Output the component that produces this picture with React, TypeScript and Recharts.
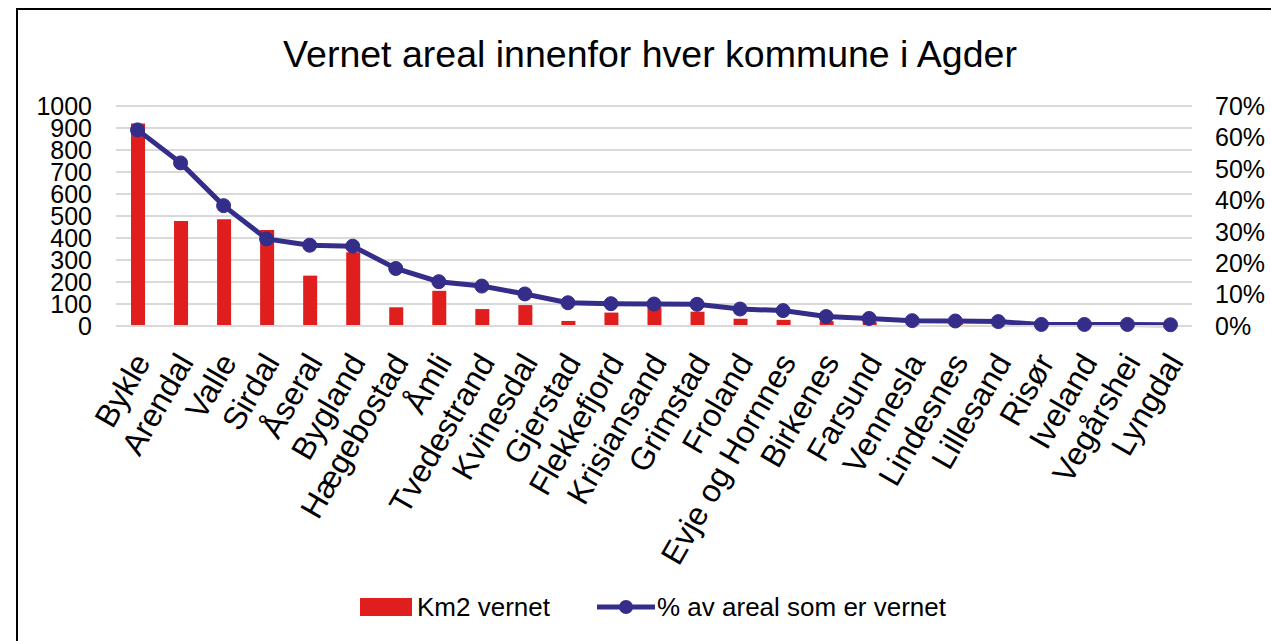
import React from 'react';
import { ComposedChart, Bar, Line, XAxis, YAxis, CartesianGrid, Legend } from 'recharts';

const municipalities = ['Bykle', 'Arendal', 'Valle', 'Sirdal', 'Åseral', 'Bygland', 'Hægebostad', 'Åmli', 'Tvedestrand', 'Kvinesdal', 'Gjerstad', 'Flekkefjord', 'Krisiansand', 'Grimstad', 'Froland', 'Evje og Hornnes', 'Birkenes', 'Farsund', 'Vennesla', 'Lindesnes', 'Lillesand', 'Risør', 'Iveland', 'Vegårshei', 'Lyngdal'];
const km2Vernet = [920, 477, 485, 436, 229, 335, 85, 160, 77, 95, 23, 61, 85, 65, 33, 28, 22, 18, 7, 18, 3, 1, 1, 2, 4];
const pctVernet = [0.624, 0.519, 0.383, 0.277, 0.257, 0.254, 0.183, 0.141, 0.127, 0.102, 0.074, 0.071, 0.070, 0.069, 0.054, 0.049, 0.030, 0.024, 0.017, 0.016, 0.014, 0.005, 0.005, 0.005, 0.004];
const leftTicks = [0, 100, 200, 300, 400, 500, 600, 700, 800, 900, 1000];
const rightTicks = [0, 0.1, 0.2, 0.3, 0.4, 0.5, 0.6, 0.7];
const title = 'Vernet areal innenfor hver kommune i Agder';
const barLabel = 'Km2 vernet';
const lineLabel = '% av areal som er vernet';

const data = municipalities.map((name, i) => ({ name, km2: km2Vernet[i], pct: pctVernet[i] }));

const FONT = '"Liberation Sans", Arial, Helvetica, sans-serif';
const RED = '#E01E1E';
const NAVY = '#342D8A';
const GRID = '#D9D9D9';

const XTick = (props: any) => {
  const { x, y, payload } = props;
  const ax = x + 14;
  const ay = y + 36;
  return (
    <text x={ax} y={ay} transform={`rotate(-60, ${ax}, ${ay})`} textAnchor="end" fontSize={32} fontFamily={FONT} fill="#000">
      {payload.value}
    </text>
  );
};

const LegendContent = () => (
  <div style={{ position: 'relative', height: 30, width: 1271, fontFamily: FONT, fontSize: 26, color: '#000' }}>
    <div style={{ position: 'absolute', left: 360, top: 6, width: 52, height: 18, background: RED }} />
    <div style={{ position: 'absolute', left: 417, top: 0, lineHeight: '30px' }}>{barLabel}</div>
    <svg style={{ position: 'absolute', left: 597, top: 0 }} width={58} height={30}>
      <line x1={0} y1={15} x2={58} y2={15} stroke={NAVY} strokeWidth={5} />
      <circle cx={29} cy={15} r={7} fill={NAVY} />
    </svg>
    <div style={{ position: 'absolute', left: 657, top: 0, lineHeight: '30px' }}>{lineLabel}</div>
  </div>
);

export default function App() {
  return (
    <div style={{ position: 'fixed', left: 0, top: 0, width: 1271, height: 641, overflow: 'hidden', background: '#fff' }}>
      <div style={{ position: 'absolute', left: 16, top: 8, width: 1400, height: 800, border: '2px solid #000', boxSizing: 'border-box' }} />
      <div style={{ position: 'absolute', left: 0, top: 33, width: 1300, textAlign: 'center', fontFamily: FONT, fontSize: 37.5, lineHeight: '42px', color: '#000' }}>
        {title}
      </div>
      <div style={{ position: 'absolute', left: 0, top: 0 }}>
        <ComposedChart width={1271} height={641} data={data} margin={{ top: 106, right: 0, bottom: 19, left: 0 }} barCategoryGap={0}>
          <CartesianGrid yAxisId="left" vertical={false} stroke={GRID} strokeWidth={2} />
          <XAxis dataKey="name" interval={0} height={266} tickLine={false} tickSize={0} tickMargin={0} axisLine={{ stroke: GRID, strokeWidth: 2 }} tick={<XTick />} />
          <YAxis yAxisId="left" width={116} domain={[0, 1000]} ticks={leftTicks} interval={0} axisLine={false} tickLine={false} tickSize={0} tickMargin={24} tick={{ fontSize: 25, fill: '#000', fontFamily: FONT }} />
          <YAxis yAxisId="right" orientation="right" width={79} domain={[0, 0.7]} ticks={rightTicks} interval={0} axisLine={false} tickLine={false} tickSize={0} tickMargin={23} tickFormatter={(v: number) => `${Math.round(v * 100)}%`} tick={{ fontSize: 25, fill: '#000', fontFamily: FONT, textAnchor: 'start' }} />
          <Bar yAxisId="left" dataKey="km2" fill={RED} barSize={14} isAnimationActive={false} />
          <Line yAxisId="right" dataKey="pct" stroke={NAVY} strokeWidth={5} dot={{ r: 7, fill: NAVY, stroke: NAVY, strokeWidth: 1 }} activeDot={false} isAnimationActive={false} />
          <Legend verticalAlign="bottom" wrapperStyle={{ top: 592, left: 0, width: 1271, height: 30 }} content={<LegendContent />} />
        </ComposedChart>
      </div>
    </div>
  );
}
